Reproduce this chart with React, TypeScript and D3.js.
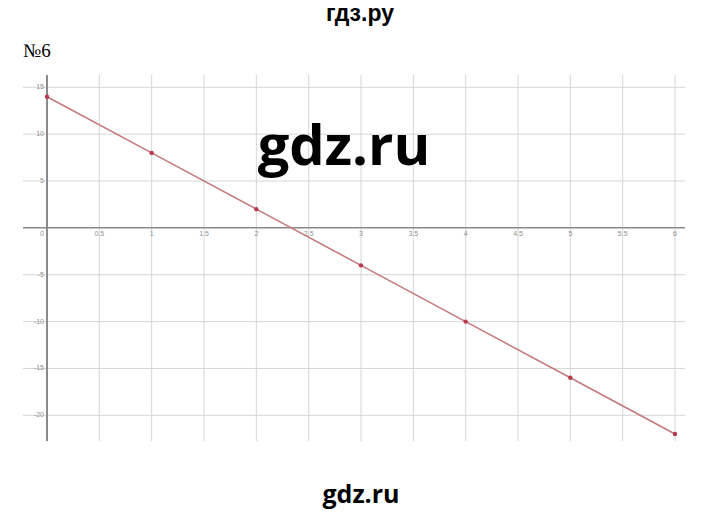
import { useRef, useEffect } from 'react';
import * as d3 from 'd3';

// points of the line y = 14 - 6x
const xValues = [0, 1, 2, 3, 4, 5, 6];
const yValues = [14, 8, 2, -4, -10, -16, -22];

const xTicks = [0, 0.5, 1, 1.5, 2, 2.5, 3, 3.5, 4, 4.5, 5, 5.5, 6];
const xTickLabels = ['0', '0.5', '1', '1.5', '2', '2.5', '3', '3.5', '4', '4.5', '5', '5.5', '6'];
const yTicks = [15, 10, 5, -5, -10, -15, -20];
const yTickLabels = ['15', '10', '5', '-5', '-10', '-15', '-20'];

export default function App() {
  const svgRef = useRef<SVGSVGElement>(null);

  useEffect(() => {
    if (!svgRef.current) return;
    const svg = d3.select(svgRef.current);
    svg.selectAll('*').remove();

    const width = 720;
    const height = 515;
    svg.attr('width', width).attr('height', height);

    svg.append('rect').attr('width', width).attr('height', height).attr('fill', '#fff');

    const xScale = d3.scaleLinear().domain([0, 6]).range([47, 675]);
    const yScale = d3.scaleLinear().domain([15, -20]).range([87.3, 415.3]);

    const gridTop = 75;
    const gridBottom = 441;
    const gridLeft = 23;
    const gridRight = 685;

    // Grid
    const grid = svg.append('g');
    grid.selectAll('line.v')
      .data(xTicks.filter((t) => t !== 0))
      .join('line')
      .attr('x1', (d) => xScale(d)).attr('x2', (d) => xScale(d))
      .attr('y1', gridTop).attr('y2', gridBottom)
      .attr('stroke', '#d6d6d6').attr('stroke-width', 1);

    grid.selectAll('line.h')
      .data(yTicks)
      .join('line')
      .attr('x1', gridLeft).attr('x2', gridRight)
      .attr('y1', (d) => yScale(d)).attr('y2', (d) => yScale(d))
      .attr('stroke', '#d6d6d6').attr('stroke-width', 1);

    // Axes
    svg.append('line')
      .attr('x1', gridLeft).attr('x2', gridRight)
      .attr('y1', yScale(0)).attr('y2', yScale(0))
      .attr('stroke', '#8a8a8a').attr('stroke-width', 1.5);

    svg.append('line')
      .attr('x1', xScale(0)).attr('x2', xScale(0))
      .attr('y1', gridTop).attr('y2', gridBottom)
      .attr('stroke', '#8a8a8a').attr('stroke-width', 2);

    // Tick labels
    svg.append('g')
      .selectAll('text')
      .data(xTicks)
      .join('text')
      .attr('x', (d) => (d === 0 ? xScale(d) - 3 : xScale(d)))
      .attr('y', yScale(0) + 8)
      .attr('text-anchor', (d) => (d === 0 ? 'end' : 'middle'))
      .attr('fill', '#8f8f8f')
      .style('font-family', 'Arial, "Liberation Sans", sans-serif')
      .style('font-size', '7px')
      .text((_, i) => xTickLabels[i]);

    svg.append('g')
      .selectAll('text')
      .data(yTicks)
      .join('text')
      .attr('x', xScale(0) - 3)
      .attr('y', (d) => yScale(d) - 0.5)
      .attr('dy', '0.35em')
      .attr('text-anchor', 'end')
      .attr('fill', '#8f8f8f')
      .style('font-family', 'Arial, "Liberation Sans", sans-serif')
      .style('font-size', '7px')
      .text((_, i) => yTickLabels[i]);

    // Line and points
    const points = xValues.map((x, i) => [x, yValues[i]] as [number, number]);
    const line = d3.line<[number, number]>()
      .x((d) => xScale(d[0]))
      .y((d) => yScale(d[1]));

    svg.append('path')
      .datum(points)
      .attr('d', line)
      .attr('fill', 'none')
      .attr('stroke', '#c47a7c')
      .attr('stroke-width', 1.6);

    svg.append('g')
      .selectAll('circle')
      .data(points)
      .join('circle')
      .attr('cx', (d) => xScale(d[0]))
      .attr('cy', (d) => yScale(d[1]))
      .attr('r', 2.2)
      .attr('fill', '#b8394c');

    // Texts
    svg.append('text')
      .attr('x', 360).attr('y', 21)
      .attr('text-anchor', 'middle')
      .attr('fill', '#000')
      .style('font-family', 'Arial, "Liberation Sans", sans-serif')
      .style('font-weight', 'bold')
      .style('font-size', '23px')
      .text('гдз.ру');

    svg.append('text')
      .attr('x', 23).attr('y', 57)
      .attr('fill', '#000')
      .style('font-family', '"Liberation Serif", serif')
      .style('font-size', '19px')
      .text('№6');

    svg.append('text')
      .attr('x', 344).attr('y', 165)
      .attr('text-anchor', 'middle')
      .attr('fill', '#000')
      .style('font-family', '"Open Sans", sans-serif')
      .style('font-weight', 'bold')
      .style('font-size', '56px')
      .text('gdz.ru');

    svg.append('text')
      .attr('x', 361).attr('y', 503)
      .attr('text-anchor', 'middle')
      .attr('fill', '#000')
      .style('font-family', '"Open Sans", sans-serif')
      .style('font-weight', 'bold')
      .style('font-size', '25px')
      .text('gdz.ru');
  }, []);

  return (
    <svg ref={svgRef} style={{ position: 'absolute', left: 0, top: 0, display: 'block' }} />
  );
}
